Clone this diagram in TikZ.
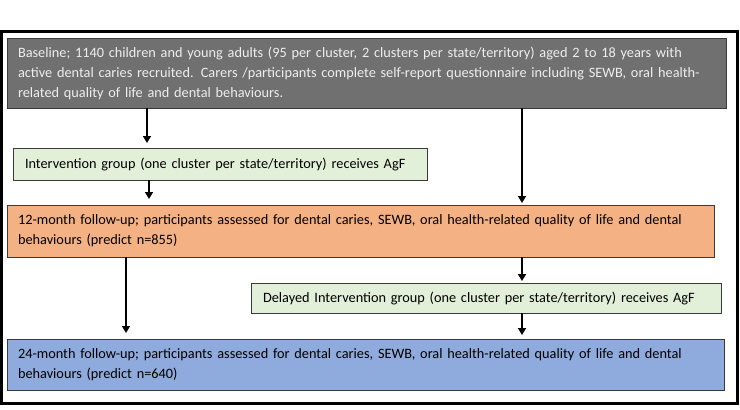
\documentclass[tikz,border=0pt]{standalone}
\usepackage{fontspec}
\setmainfont{Carlito}
\usetikzlibrary{arrows.meta}
\definecolor{basefill}{HTML}{707070}
\definecolor{basetext}{HTML}{EEEEEE}
\definecolor{greenfill}{HTML}{E2F0D9}
\definecolor{orangefill}{HTML}{F4B183}
\definecolor{bluefill}{HTML}{8FAADC}
\definecolor{edge}{HTML}{3A3A3A}
\tikzset{
  box/.style={draw=edge, line width=1pt, rectangle, anchor=north west, align=left,
    inner xsep=11pt, inner ysep=0pt, outer sep=0pt,
    font=\fontsize{14.3}{20}\selectfont},
  arr/.style={line width=1.6pt, -{Triangle[width=8pt,length=7pt]}}
}
\begin{document}
\begin{tikzpicture}[x=1pt,y=-1pt]
\useasboundingbox (0,0) rectangle (740,410);
\draw[line width=3pt] (1.5,31.5) rectangle (737.5,403.5);
\node[box, fill=basefill, text=basetext, minimum width=719pt, minimum height=70pt, text width=697pt] (base) at (7,38)
  {Baseline; 1140 children and young adults (95 per cluster, 2 clusters per state/territory) aged 2 to 18 years with\\
   active dental caries recruited. Carers /participants complete self-report questionnaire including SEWB, oral health-\\
   related quality of life and dental behaviours.};
\node[box, fill=greenfill, inner xsep=12pt, minimum width=414pt, minimum height=32pt, text width=390pt] (intv) at (13,148)
  {Intervention group (one cluster per state/territory) receives AgF};
\node[box, fill=orangefill, minimum width=707pt, minimum height=52pt, text width=685pt] (m12) at (7,205)
  {12-month follow-up; participants assessed for dental caries, SEWB, oral health-related quality of life and dental\\
   behaviours (predict n=855)};
\node[box, fill=greenfill, inner xsep=12pt, minimum width=470pt, minimum height=30pt, text width=446pt] (delay) at (251,283)
  {Delayed Intervention group (one cluster per state/territory) receives AgF};
\node[box, fill=bluefill, minimum width=717pt, minimum height=51pt, text width=695pt] (m24) at (7,339)
  {24-month follow-up; participants assessed for dental caries, SEWB, oral health-related quality of life and dental\\
   behaviours (predict n=640)};
\draw[arr] (base.south -| 147,0) -- ([yshift=5pt]intv.north -| 147,0);
\draw[arr] (intv.south -| 149,0) -- ([yshift=6pt]m12.north -| 149,0);
\draw[arr] (base.south -| 522,0) -- ([yshift=2pt]m12.north -| 522,0);
\draw[arr] (m12.south -| 126,0) -- ([yshift=6pt]m24.north -| 126,0);
\draw[arr] (m12.south -| 522,0) -- ([yshift=2pt]delay.north -| 522,0);
\draw[arr] (delay.south -| 522,0) -- ([yshift=4pt]m24.north -| 522,0);
\end{tikzpicture}
\end{document}
